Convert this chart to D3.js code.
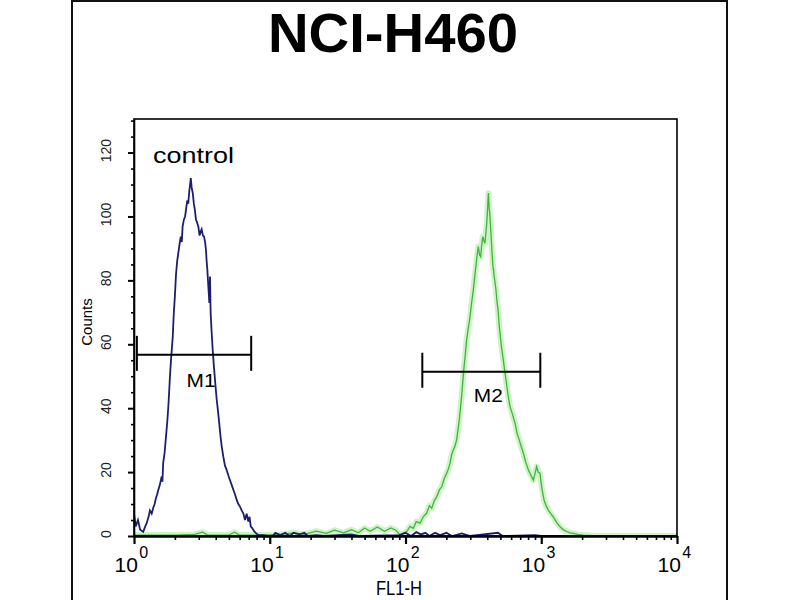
<!DOCTYPE html>
<html>
<head>
<meta charset="utf-8">
<script src="https://cdn.jsdelivr.net/npm/d3@7"></script>
<style>
  body { margin: 0; background: #fff; }
  svg { display: block; }
  .narrow { font-family: "Liberation Sans Narrow", "Arial Narrow", "Liberation Sans", Arial, sans-serif; }
  .sans { font-family: "Liberation Sans", Arial, sans-serif; }
</style>
</head>
<body>
<div id="chart"></div>
<script>
// --- data: [FL1-H intensity, counts] ---
const title = "NCI-H460";
const controlLabel = "control";

const controlData = [
  [1.00, 7], [1.03, 3], [1.07, 5], [1.11, 2], [1.17, 1.3], [1.21, 3], [1.24, 4], [1.28, 6], [1.31, 8], [1.35, 7],
  [1.39, 9], [1.42, 10], [1.45, 11.8], [1.48, 13], [1.51, 14.4], [1.55, 16], [1.60, 18.6], [1.62, 17], [1.64, 22.8], [1.68, 26],
  [1.72, 31], [1.76, 36], [1.79, 40.5], [1.82, 46], [1.84, 49.9], [1.88, 56], [1.93, 62.4], [1.96, 69], [2.00, 75], [2.04, 82],
  [2.08, 86], [2.12, 88.5], [2.16, 91], [2.21, 93.7], [2.25, 92], [2.28, 96.8], [2.33, 99], [2.38, 100], [2.43, 103], [2.47, 105],
  [2.51, 104], [2.56, 108.3], [2.59, 110], [2.62, 112], [2.66, 109], [2.71, 107.3], [2.76, 104], [2.81, 102], [2.86, 99], [2.92, 98],
  [2.98, 96.8], [3.04, 94], [3.10, 95.3], [3.15, 96], [3.22, 94], [3.28, 93.7], [3.34, 92], [3.39, 89.5], [3.43, 86], [3.47, 83.3],
  [3.53, 78], [3.59, 72.9], [3.63, 81.2], [3.67, 69.7], [3.73, 64], [3.80, 58.2], [3.88, 53], [3.97, 47.8], [4.06, 43], [4.15, 39.4],
  [4.25, 35], [4.34, 31.1], [4.43, 28], [4.55, 24.8], [4.68, 22], [4.81, 20.7], [4.95, 19], [5.09, 17.5], [5.24, 16], [5.40, 14.4],
  [5.55, 13], [5.71, 11.3], [5.87, 10], [6.04, 9.2], [6.21, 8], [6.39, 7.1], [6.57, 5], [6.76, 7], [6.95, 4.5], [7.10, 6],
  [7.24, 3], [7.45, 2.4], [7.66, 1.5], [7.95, 0.8], [8.24, 0.3], [8.97, 0.3], [9.75, 0], [10.5, 0], [11, 1], [12, 0.3],
  [13, 1], [14, 0], [15, 1], [16.5, 0.5], [18, 1], [19, 0], [22, 0.3], [25, 0], [40, 0.5], [45, 0],
  [90, 0.3], [100, 1], [110, 0], [120, 1.2], [130, 0.5], [140, 1], [150, 0], [165, 1], [180, 0.3], [200, 1],
  [220, 0], [260, 0.8], [300, 0], [480, 1], [520, 0], [900, 0.3], [1000, 0], [10000, 0]
];

const stainedData = [
  [1, 0.3], [2, 0.3], [2.8, 0.5], [3.2, 1.2], [3.5, 0.3], [5, 0.3], [5.5, 1.2], [6, 0.3], [9, 0.3], [12, 0.5],
  [15, 1], [18, 0.5], [22, 1.5], [26, 0.8], [30, 1.8], [35, 1], [40, 2], [45, 1], [50, 2.5], [55, 1.5],
  [62, 2.8], [70, 1.5], [78, 2.5], [85, 1.8], [91, 0.3], [102, 1.4], [108, 3], [114, 2.4], [120, 4.5], [128, 4],
  [135, 6], [143, 7.1], [150, 9.5], [156, 8.7], [163, 11], [170, 12.3], [178, 14.5], [185, 15.4], [193, 18], [201, 19.6],
  [207, 21], [213, 22.8], [219, 25.5], [225, 26.9], [231, 28], [238, 30], [243, 33], [249, 36.3], [254, 40], [259, 43.6],
  [264, 48], [270, 53], [276, 57], [282, 61.4], [290, 65], [299, 68.7], [307, 73], [316, 77], [323, 81], [330, 84.3],
  [337, 88], [344, 90.6], [351, 88], [358, 87.4], [364, 91], [371, 93.7], [378, 92.5], [385, 91.6], [391, 95], [397, 97.9],
  [402, 102], [408, 107.3], [413, 103], [419, 100], [428, 93], [439, 85.4], [451, 81], [464, 77], [473, 73], [483, 69.7],
  [490, 66], [497, 63.5], [510, 59], [525, 55.1], [537, 52], [550, 48.8], [570, 44], [589, 40.5], [615, 38], [641, 35.3],
  [665, 32], [689, 30], [712, 28], [738, 25.9], [770, 23], [803, 20.7], [840, 19], [874, 17.5], [900, 19.5], [925, 21.7],
  [950, 20], [979, 19.6], [1010, 15], [1048, 11.3], [1085, 9.5], [1127, 8.1], [1175, 7], [1227, 6], [1300, 4.2], [1375, 2.9],
  [1450, 2], [1539, 1.4], [1630, 1], [1722, 0.8], [1850, 0.5], [2042, 0.3], [2500, 0], [10000, 0]
];

// gate markers: name, low / high FL1-H bound, level in counts
const markerNames = ["M1", "M2"];
const markerLow = [1.05, 133];
const markerHigh = [7.3, 984];
const markerLevel = [56.7, 51.4];

const xMajor = [1, 10, 100, 1000, 10000];
const xExponents = ["0", "1", "2", "3", "4"];
const yMajor = [0, 20, 40, 60, 80, 100, 120];
const yMinor = d3.range(5, 131, 5).filter(v => v % 20 !== 0);
const xMinor = [];
xMajor.slice(0, -1).forEach(d => { for (let k = 2; k <= 9; k++) xMinor.push(d * k); });

// --- layout ---
const svg = d3.select("#chart").append("svg").attr("width", 800).attr("height", 600);
svg.append("rect").attr("width", 800).attr("height", 600).attr("fill", "#fff");

const x = d3.scaleLog().domain([1, 10000]).range([134, 677]);
const y = d3.scaleLinear().domain([0, 130.5]).range([536, 119]);

// outer frame
svg.append("rect").attr("x", 72).attr("y", 1).attr("width", 655).attr("height", 640)
  .attr("fill", "none").attr("stroke", "#111").attr("stroke-width", 2);

svg.append("text").attr("class", "sans")
  .attr("x", 393).attr("y", 52).attr("text-anchor", "middle")
  .attr("font-size", 55).attr("font-weight", "bold").attr("textLength", 250)
  .attr("lengthAdjust", "spacingAndGlyphs").attr("fill", "#000").text(title);

svg.append("clipPath").attr("id", "plot-clip").append("rect")
  .attr("x", 134).attr("y", 119).attr("width", 543).attr("height", 418);

const line = d3.line().x(d => x(d[0])).y(d => y(d[1]));
const curves = svg.append("g").attr("clip-path", "url(#plot-clip)");

// stained sample: green with soft halo
curves.append("path").datum(stainedData).attr("d", line)
  .attr("fill", "none").attr("stroke", "#c4f2b8").attr("stroke-width", 6)
  .attr("stroke-linejoin", "round").attr("opacity", 0.85);
curves.append("path").datum(stainedData).attr("d", line)
  .attr("fill", "none").attr("stroke", "#45b045").attr("stroke-width", 1.3);

// control: navy
curves.append("path").datum(controlData).attr("d", line)
  .attr("fill", "none").attr("stroke", "#1c1f6e").attr("stroke-width", 1.8);

// plot box
svg.append("rect").attr("x", 134).attr("y", 119).attr("width", 543).attr("height", 417)
  .attr("fill", "none").attr("stroke", "#000").attr("stroke-width", 1.6);

// x axis
const xAxisG = svg.append("g").attr("transform", "translate(0,536)");
xAxisG.append("g")
  .call(d3.axisBottom(x).tickValues(xMinor).tickSize(4).tickSizeOuter(0).tickFormat(""))
  .call(g => g.select(".domain").remove())
  .call(g => g.selectAll("line").attr("stroke", "#000").attr("stroke-width", 1.6));
xAxisG.append("g")
  .call(d3.axisBottom(x).tickValues(xMajor).tickSize(8).tickSizeOuter(0).tickFormat(""))
  .call(g => g.select(".domain").attr("stroke", "#000").attr("stroke-width", 2.6))
  .call(g => g.selectAll("line").attr("stroke", "#000").attr("stroke-width", 2.2));

// decade labels: "10" ends at the tick, exponent raised just after it
xMajor.forEach((d, i) => {
  const t = svg.append("text").attr("class", "narrow")
    .attr("x", x(d) - 19.5).attr("y", 571.5).attr("fill", "#000");
  t.append("tspan").attr("font-size", 21).text("10");
  t.append("tspan").attr("font-size", 16).attr("dx", 1.5).attr("dy", -13.5).text(xExponents[i]);
});

svg.append("text").attr("class", "narrow")
  .attr("x", 399).attr("y", 595).attr("text-anchor", "middle")
  .attr("font-size", 21).attr("textLength", 46).attr("lengthAdjust", "spacingAndGlyphs")
  .attr("fill", "#000").text("FL1-H");

// y axis
const yAxisG = svg.append("g").attr("transform", "translate(134,0)");
yAxisG.append("g")
  .call(d3.axisLeft(y).tickValues(yMinor).tickSize(3).tickSizeOuter(0).tickFormat(""))
  .call(g => g.select(".domain").remove())
  .call(g => g.selectAll("line").attr("stroke", "#000").attr("stroke-width", 1.6));
yAxisG.append("g")
  .call(d3.axisLeft(y).tickValues(yMajor).tickSize(6).tickSizeOuter(0).tickFormat(""))
  .call(g => g.select(".domain").attr("stroke", "#000").attr("stroke-width", 1.6))
  .call(g => g.selectAll("line").attr("stroke", "#000").attr("stroke-width", 2));

yMajor.forEach(v => {
  svg.append("text").attr("class", "sans")
    .attr("transform", `translate(111,${y(v) - 2}) rotate(-90)`)
    .attr("text-anchor", "middle").attr("font-size", 14).attr("fill", "#222")
    .text(v);
});

svg.append("text").attr("class", "sans")
  .attr("transform", "translate(92,322) rotate(-90)")
  .attr("text-anchor", "middle").attr("font-size", 15).attr("fill", "#000")
  .text("Counts");

svg.append("text").attr("class", "sans")
  .attr("x", 153).attr("y", 163).attr("font-size", 22)
  .attr("textLength", 81).attr("lengthAdjust", "spacingAndGlyphs")
  .attr("fill", "#000").text(controlLabel);

// gate markers
const markerLabelDy = [32, 30];
markerNames.forEach((name, i) => {
  const g = svg.append("g").attr("stroke", "#000").attr("stroke-width", 2);
  const x0 = x(markerLow[i]), x1 = x(markerHigh[i]), ym = y(markerLevel[i]);
  g.append("line").attr("x1", x0).attr("x2", x1).attr("y1", ym).attr("y2", ym);
  g.append("line").attr("x1", x0).attr("x2", x0).attr("y1", ym - 19).attr("y2", ym + 16);
  g.append("line").attr("x1", x1).attr("x2", x1).attr("y1", ym - 19).attr("y2", ym + 16);
  svg.append("text").attr("class", "sans")
    .attr("x", (x0 + x1) / 2 + 7).attr("y", ym + markerLabelDy[i])
    .attr("text-anchor", "middle").attr("font-size", 18)
    .attr("textLength", 29).attr("lengthAdjust", "spacingAndGlyphs")
    .attr("fill", "#000").text(name);
});
</script>
</body>
</html>
